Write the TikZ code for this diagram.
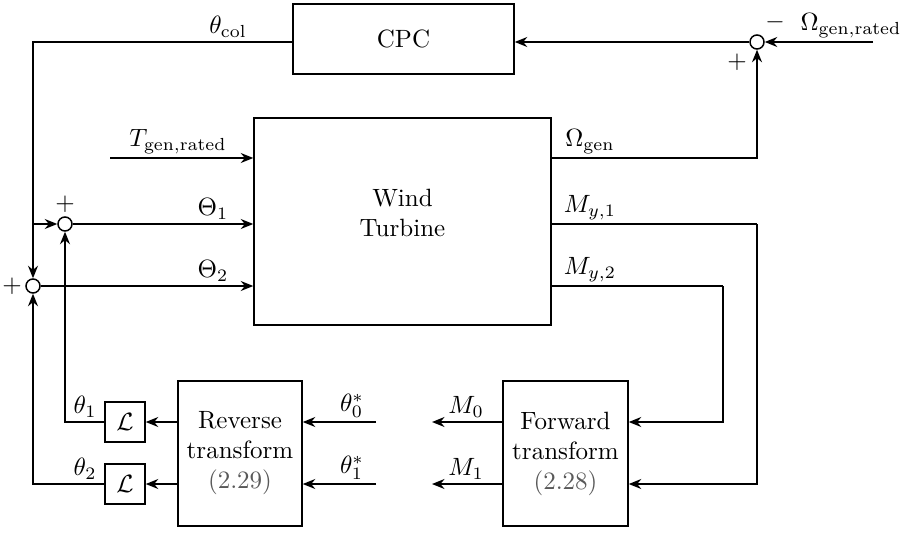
\documentclass[tikz,border=0pt]{standalone}
\usetikzlibrary{arrows.meta, positioning, calc}
\definecolor{RefGray}{rgb}{0.35, 0.35, 0.35}

\tikzset{
  blk/.style={draw, align=center, inner sep=2pt},
  sumpt/.style={draw, circle, inner sep=0pt, minimum size=5.6pt},
  arr/.style={-{Stealth[length=5pt, width=4pt]}},
  sig/.style={anchor=south, inner sep=1.5pt},
}

\begin{document}
\begin{tikzpicture}[x=0.4pt, y=-0.4pt, line width=0.6pt]
\useasboundingbox (0,0) rectangle (904,532);

% bloques
\node[blk, minimum width=88.4pt, minimum height=28pt] (cpc) at (403.5,39) {CPC};
\node[blk, minimum width=118.8pt, minimum height=82.8pt] (wt) at (402.5,221.5) {};
\node[align=center] (wtxt) at ($(wt)+(0,-9)$) {Wind\\Turbine};
\node[blk, minimum width=49.6pt, minimum height=58pt] (rev) at (240,453.5)
    {Reverse\\transform\\{\color{RefGray}(2.29)}};
\node[blk, minimum width=50pt, minimum height=58pt] (fwd) at (565.5,453.5)
    {Forward\\transform\\{\color{RefGray}(2.28)}};
\node[blk, minimum size=16pt] (L1) at (125,422) {$\mathcal{L}$};
\node[blk, minimum size=16pt] (L2) at (125,484) {$\mathcal{L}$};

% sumadores
\node[sumpt] (s1) at (65,224) {};
\node[sumpt] (s2) at (33,286) {};
\node[sumpt] (s3) at (757,42) {};
\node at (65,204) {$+$};
\node at (12,286) {$+$};
\node at (775,22) {$-$};
\node at (737,62) {$+$};

% puntos libres
\coordinate (tin) at (110,158);
\coordinate (wref) at (873,42);
\coordinate (th0) at (376,422);
\coordinate (th1) at (376,484);
\coordinate (m0) at (432,422);
\coordinate (m1) at (432,484);
\coordinate (tap) at (s2 |- s1);
\coordinate (c2) at (723,286);
\coordinate (c1) at (757,224);

% lazo CPC
\draw[arr] (wref) -- (s3.east);
\draw[arr] (s3.west) -- (cpc.east |- s3);
\draw[arr] (cpc.west |- s3) -| (s2.north);
\node[sig] at (228,42) {$\theta_{\mathrm{col}}$};
\node[sig] at (851,42) {$\Omega_{\mathrm{gen,rated}}$};
\draw[arr] (wt.east |- tin) -| (s3.south);
\node[sig] at (590,158) {$\Omega_{\mathrm{gen}}$};

% entradas turbina
\draw[arr] (tin) -- (wt.west |- tin);
\node[sig] at (178,158) {$T_{\mathrm{gen,rated}}$};
\draw[arr] (tap) -- (s1.west);
\draw[arr] (s1.east) -- (wt.west |- s1);
\node[sig] at (213,224) {$\Theta_1$};
\draw[arr] (s2.east) -- (wt.west |- s2);
\node[sig] at (213,286) {$\Theta_2$};

% salidas turbina
\draw (wt.east |- c1) -- (c1);
\draw[arr] (c1) |- (fwd.east |- th1);
\node[sig] at (590,224) {$M_{y,1}$};
\draw (wt.east |- c2) -- (c2);
\draw[arr] (c2) |- (fwd.east |- th0);
\node[sig] at (590,286) {$M_{y,2}$};

% transformada directa
\draw[arr] (fwd.west |- m0) -- (m0);
\node[sig] at (466,422) {$M_0$};
\draw[arr] (fwd.west |- m1) -- (m1);
\node[sig] at (466,484) {$M_1$};

% transformada inversa
\draw[arr] (th0) -- (rev.east |- th0);
\node[sig] at (352,422) {$\theta_0^*$};
\draw[arr] (th1) -- (rev.east |- th1);
\node[sig] at (352,484) {$\theta_1^*$};
\draw[arr] (rev.west |- L1) -- (L1.east);
\draw[arr] (rev.west |- L2) -- (L2.east);
\draw[arr] (L1.west) -| (s1.south);
\node[sig] at (85,422) {$\theta_1$};
\draw[arr] (L2.west) -| (s2.south);
\node[sig] at (85,484) {$\theta_2$};

\end{tikzpicture}
\end{document}
